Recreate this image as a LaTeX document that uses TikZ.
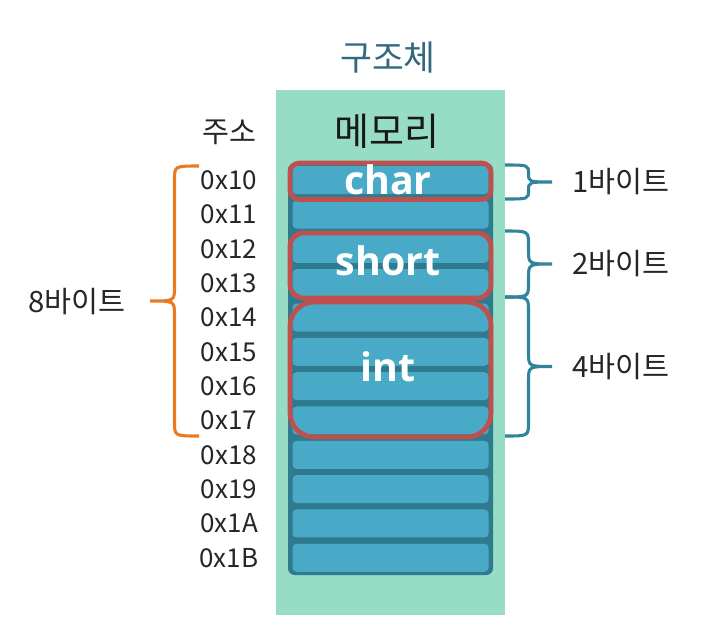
\documentclass[tikz,border=0pt]{standalone}
\usepackage{fontspec}
\setmainfont{Noto Sans CJK KR}
\newfontfamily\labfont{Open Sans}
\usetikzlibrary{calc}
\definecolor{panel}{HTML}{97DCC5}
\definecolor{cellfill}{HTML}{48AAC6}
\definecolor{celldark}{HTML}{2F7A8E}
\definecolor{redbox}{HTML}{C0504D}
\definecolor{orangebr}{HTML}{E87B22}
\definecolor{tealbr}{HTML}{31849B}
\definecolor{titlecol}{HTML}{31697E}
\newcommand{\mybrace}[5]{% style, x0, ytop, ybot, xtip
  \pgfmathsetmacro\bxm{(#2+#5)/2}
  \pgfmathsetmacro\bym{(#3+#4)/2}
  \pgfmathsetmacro\br{min(14,(#4-#3)/4)}
  \draw[#1] (#2,#3) .. controls (\bxm,#3) .. (\bxm,#3+\br) -- (\bxm,\bym-\br)
    .. controls (\bxm,\bym) .. (#5,\bym) .. controls (\bxm,\bym) .. (\bxm,\bym+\br)
    -- (\bxm,#4-\br) .. controls (\bxm,#4) .. (#2,#4);
}
\tikzset{
  addr/.style={font=\fontsize{19.5}{22}\selectfont, text=black!85, inner sep=0pt},
  kor/.style={font=\fontsize{22}{25}\selectfont, text=black!85, inner sep=0pt},
  cellbox/.style={fill=cellfill, rounded corners=3pt, minimum width=147pt, minimum height=21pt, inner sep=0pt},
  redframe/.style={draw=redbox, line width=3.6pt},
  typelab/.style={font=\labfont\bfseries\fontsize{29.5}{33}\selectfont, text=white, inner sep=0pt},
  obrace/.style={draw=orangebr, line width=2.3pt},
  tbrace/.style={draw=tealbr, line width=2.3pt},
}
\begin{document}
\begin{tikzpicture}[x=0.75pt,y=-0.75pt]
\useasboundingbox (0,0) rectangle (724,633);
\fill[white] (0,0) rectangle (724,633);
% panel
\fill[panel] (276,90) rectangle (505,615);
\node[font=\fontsize{26}{30}\selectfont, text=titlecol, inner sep=0pt] (title) at (388,58) {구조체};
\node[font=\fontsize{28.5}{32}\selectfont, text=black!90, inner sep=0pt] (mem) at (387,131) {메모리};
\node[kor] (addrh) at (229,132) {주소};
% memory column
\fill[celldark, rounded corners=5pt] (288,163) rectangle (493,575);
\foreach \i/\a in {0/0x10,1/0x11,2/0x12,3/0x13,4/0x14,5/0x15,6/0x16,7/0x17,8/0x18,9/0x19,10/0x1A,11/0x1B}{
  \pgfmathsetmacro\yc{163+34.33*\i+17.17}
  \node[cellbox] (c\i) at (390.5,\yc) {};
  \node[addr] (a\i) at (229,\yc) {\a};
}
% red frames
\draw[redframe, rounded corners=7pt] (290,163) rectangle (491,199.5);
\draw[redframe, rounded corners=10pt] (290,233) rectangle (491,298);
\draw[redframe, rounded corners=18pt] (290,302) rectangle (491,437);
\node[typelab] (tchar) at (388,180) {char};
\node[typelab] (tshort) at (388,261) {short};
\node[typelab] (tint) at (388,367) {int};
% left brace
\mybrace{obrace}{199}{166}{436}{150}
\node[kor] (b8) at (77,302) {8바이트};
% right braces
\mybrace{tbrace}{505}{165}{199}{552}
\mybrace{tbrace}{505}{231}{297}{552}
\mybrace{tbrace}{505}{297}{436}{552}
\node[kor, anchor=west] (b1) at (572,182) {1바이트};
\node[kor, anchor=west] (b2) at (572,264) {2바이트};
\node[kor, anchor=west] (b4) at (572,367) {4바이트};
\end{tikzpicture}
\end{document}
